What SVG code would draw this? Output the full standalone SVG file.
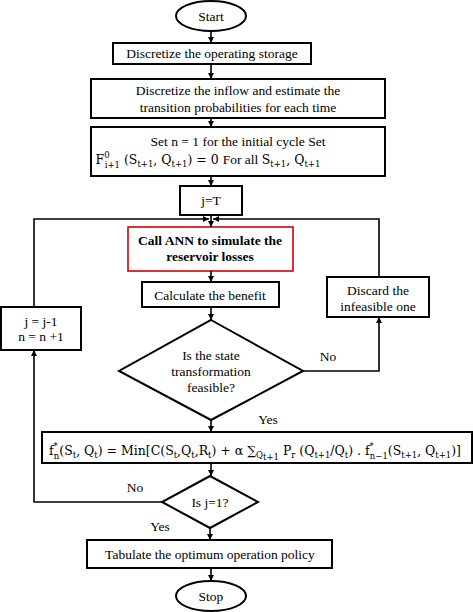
<svg xmlns="http://www.w3.org/2000/svg" width="473" height="612" viewBox="0 0 473 612">
<defs>
<marker id="ah" viewBox="0 0 10 10" refX="10" refY="5" markerWidth="6" markerHeight="6" markerUnits="userSpaceOnUse" orient="auto"><path d="M0,0 L10,5 L0,10 z" fill="#000"/></marker>
<style>
.b{fill:#fff;stroke:#000;stroke-width:2}
.r{fill:#fff;stroke:#d00000;stroke-width:1.6}
.t{font-family:"Liberation Serif","Times New Roman",serif;font-size:13.5px;fill:#000;text-anchor:middle}
.m{font-family:"DejaVu Serif","Liberation Serif",serif;font-size:12.5px}
.bt{font-weight:bold}
.s{font-size:8.5px}
.c{fill:none;stroke:#000;stroke-width:1.6;marker-end:url(#ah)}
.l{fill:none;stroke:#000;stroke-width:1.6}
</style>
</defs>
<g id="start"><ellipse class="b" cx="211" cy="16" rx="35" ry="15"/><text class="t" x="211" y="21">Start</text></g>
<g id="n1"><rect class="b" x="113" y="43" width="198" height="21"/><text class="t" x="212" y="58">Discretize the operating storage</text></g>
<g id="n2"><rect class="b" x="91" y="79" width="294" height="39"/><text class="t" x="238" y="95">Discretize the inflow and estimate the</text><text class="t" x="238" y="112">transition probabilities for each time</text></g>
<g id="n3"><rect class="b" x="91" y="127" width="294" height="49"/><text class="t" x="238" y="146">Set n = 1 for the initial cycle Set</text>
<text class="t m" x="208" y="164">F<tspan class="s" dy="-6">0</tspan><tspan class="s" dx="-5" dy="10">i+1</tspan><tspan dy="-4"> (S</tspan><tspan class="s" dy="3">t+1</tspan><tspan dy="-3">, Q</tspan><tspan class="s" dy="3">t+1</tspan><tspan dy="-3">) = 0 </tspan><tspan font-family="Liberation Serif" font-size="13.5"> For all </tspan><tspan>S</tspan><tspan class="s" dy="3">t+1</tspan><tspan dy="-3">, Q</tspan><tspan class="s" dy="3">t+1</tspan></text></g>
<g id="n4"><rect class="b" x="180" y="186" width="62" height="29"/><text class="t" x="211" y="205">j=T</text></g>
<g id="n5"><rect class="r" x="128" y="227" width="165" height="44"/><text class="t bt" x="210" y="245">Call ANN to simulate the</text><text class="t bt" x="210" y="261">reservoir losses</text></g>
<g id="n6"><rect class="b" x="142" y="282" width="137" height="25"/><text class="t" x="210" y="300">Calculate the benefit</text></g>
<g id="n7"><rect class="b" x="327" y="277" width="102" height="40"/><text class="t" x="378" y="295">Discard the</text><text class="t" x="378" y="311">infeasible one</text></g>
<g id="n8"><rect class="b" x="1" y="307" width="80" height="43"/><text class="t" x="41" y="326">j = j-1</text><text class="t" x="41" y="341">n = n +1</text></g>
<g id="d1"><polygon class="b" points="211,320 303,371 211,420 119,371"/><text class="t" x="211" y="360">Is the state</text><text class="t" x="211" y="376">transformation</text><text class="t" x="211" y="392">feasible?</text></g>
<g id="n9"><rect class="b" x="42" y="432" width="430" height="31"/>
<text class="t m" x="255" y="455" textLength="412" lengthAdjust="spacing">f<tspan class="s" dy="-6">*</tspan><tspan class="s" dx="-4" dy="10">n</tspan><tspan dy="-4">(S</tspan><tspan class="s" dy="3">t</tspan><tspan dy="-3">, Q</tspan><tspan class="s" dy="3">t</tspan><tspan dy="-3">) = Min[C(S</tspan><tspan class="s" dy="3">t</tspan><tspan dy="-3">,Q</tspan><tspan class="s" dy="3">t</tspan><tspan dy="-3">,R</tspan><tspan class="s" dy="3">t</tspan><tspan dy="-3">) + α ∑</tspan><tspan class="s" dy="3">Q</tspan><tspan class="s" font-size="6.5" dy="2">t+1</tspan><tspan dy="-5"> P</tspan><tspan class="s" dy="3">r</tspan><tspan dy="-3"> (Q</tspan><tspan class="s" dy="3">t+1</tspan><tspan dy="-3">/Q</tspan><tspan class="s" dy="3">t</tspan><tspan dy="-3">) . f</tspan><tspan class="s" dy="-6">*</tspan><tspan class="s" dx="-4" dy="10">n−1</tspan><tspan dy="-4">(S</tspan><tspan class="s" dy="3">t+1</tspan><tspan dy="-3">, Q</tspan><tspan class="s" dy="3">t+1</tspan><tspan dy="-3">)]</tspan></text></g>
<g id="d2"><polygon class="b" points="210,476 258,502 210,528 162,502"/><text class="t" x="210" y="507">Is j=1?</text></g>
<g id="n10"><rect class="b" x="87" y="540" width="245" height="28"/><text class="t" x="210" y="559">Tabulate the optimum operation policy</text></g>
<g id="stop"><ellipse class="b" cx="211" cy="596" rx="35" ry="15"/><text class="t" x="211" y="601">Stop</text></g>
<g id="connectors">
<line class="c" x1="211" y1="31" x2="211" y2="43"/>
<line class="c" x1="211" y1="64" x2="211" y2="79"/>
<line class="c" x1="211" y1="118" x2="211" y2="127"/>
<line class="c" x1="211" y1="176" x2="211" y2="186"/>
<line class="c" x1="211" y1="215" x2="211" y2="227"/>
<line class="c" x1="211" y1="271" x2="211" y2="282"/>
<line class="c" x1="211" y1="307" x2="211" y2="320"/>
<line class="c" x1="211" y1="420" x2="211" y2="432"/>
<line class="c" x1="211" y1="463" x2="211" y2="476"/>
<line class="c" x1="210" y1="528" x2="210" y2="540"/>
<line class="c" x1="211" y1="568" x2="211" y2="581"/>
<polyline class="c" points="303,371 379,371 379,317"/>
<polyline class="c" points="379,277 379,219 213,219"/>
<polyline class="c" points="162,502 34,502 34,350"/>
<polyline class="c" points="34,307 34,219 209,219"/>
<text class="t" x="328" y="361">No</text>
<text class="t" x="268" y="424">Yes</text>
<text class="t" x="135" y="492">No</text>
<text class="t" x="160" y="531">Yes</text>
</g>
</svg>
